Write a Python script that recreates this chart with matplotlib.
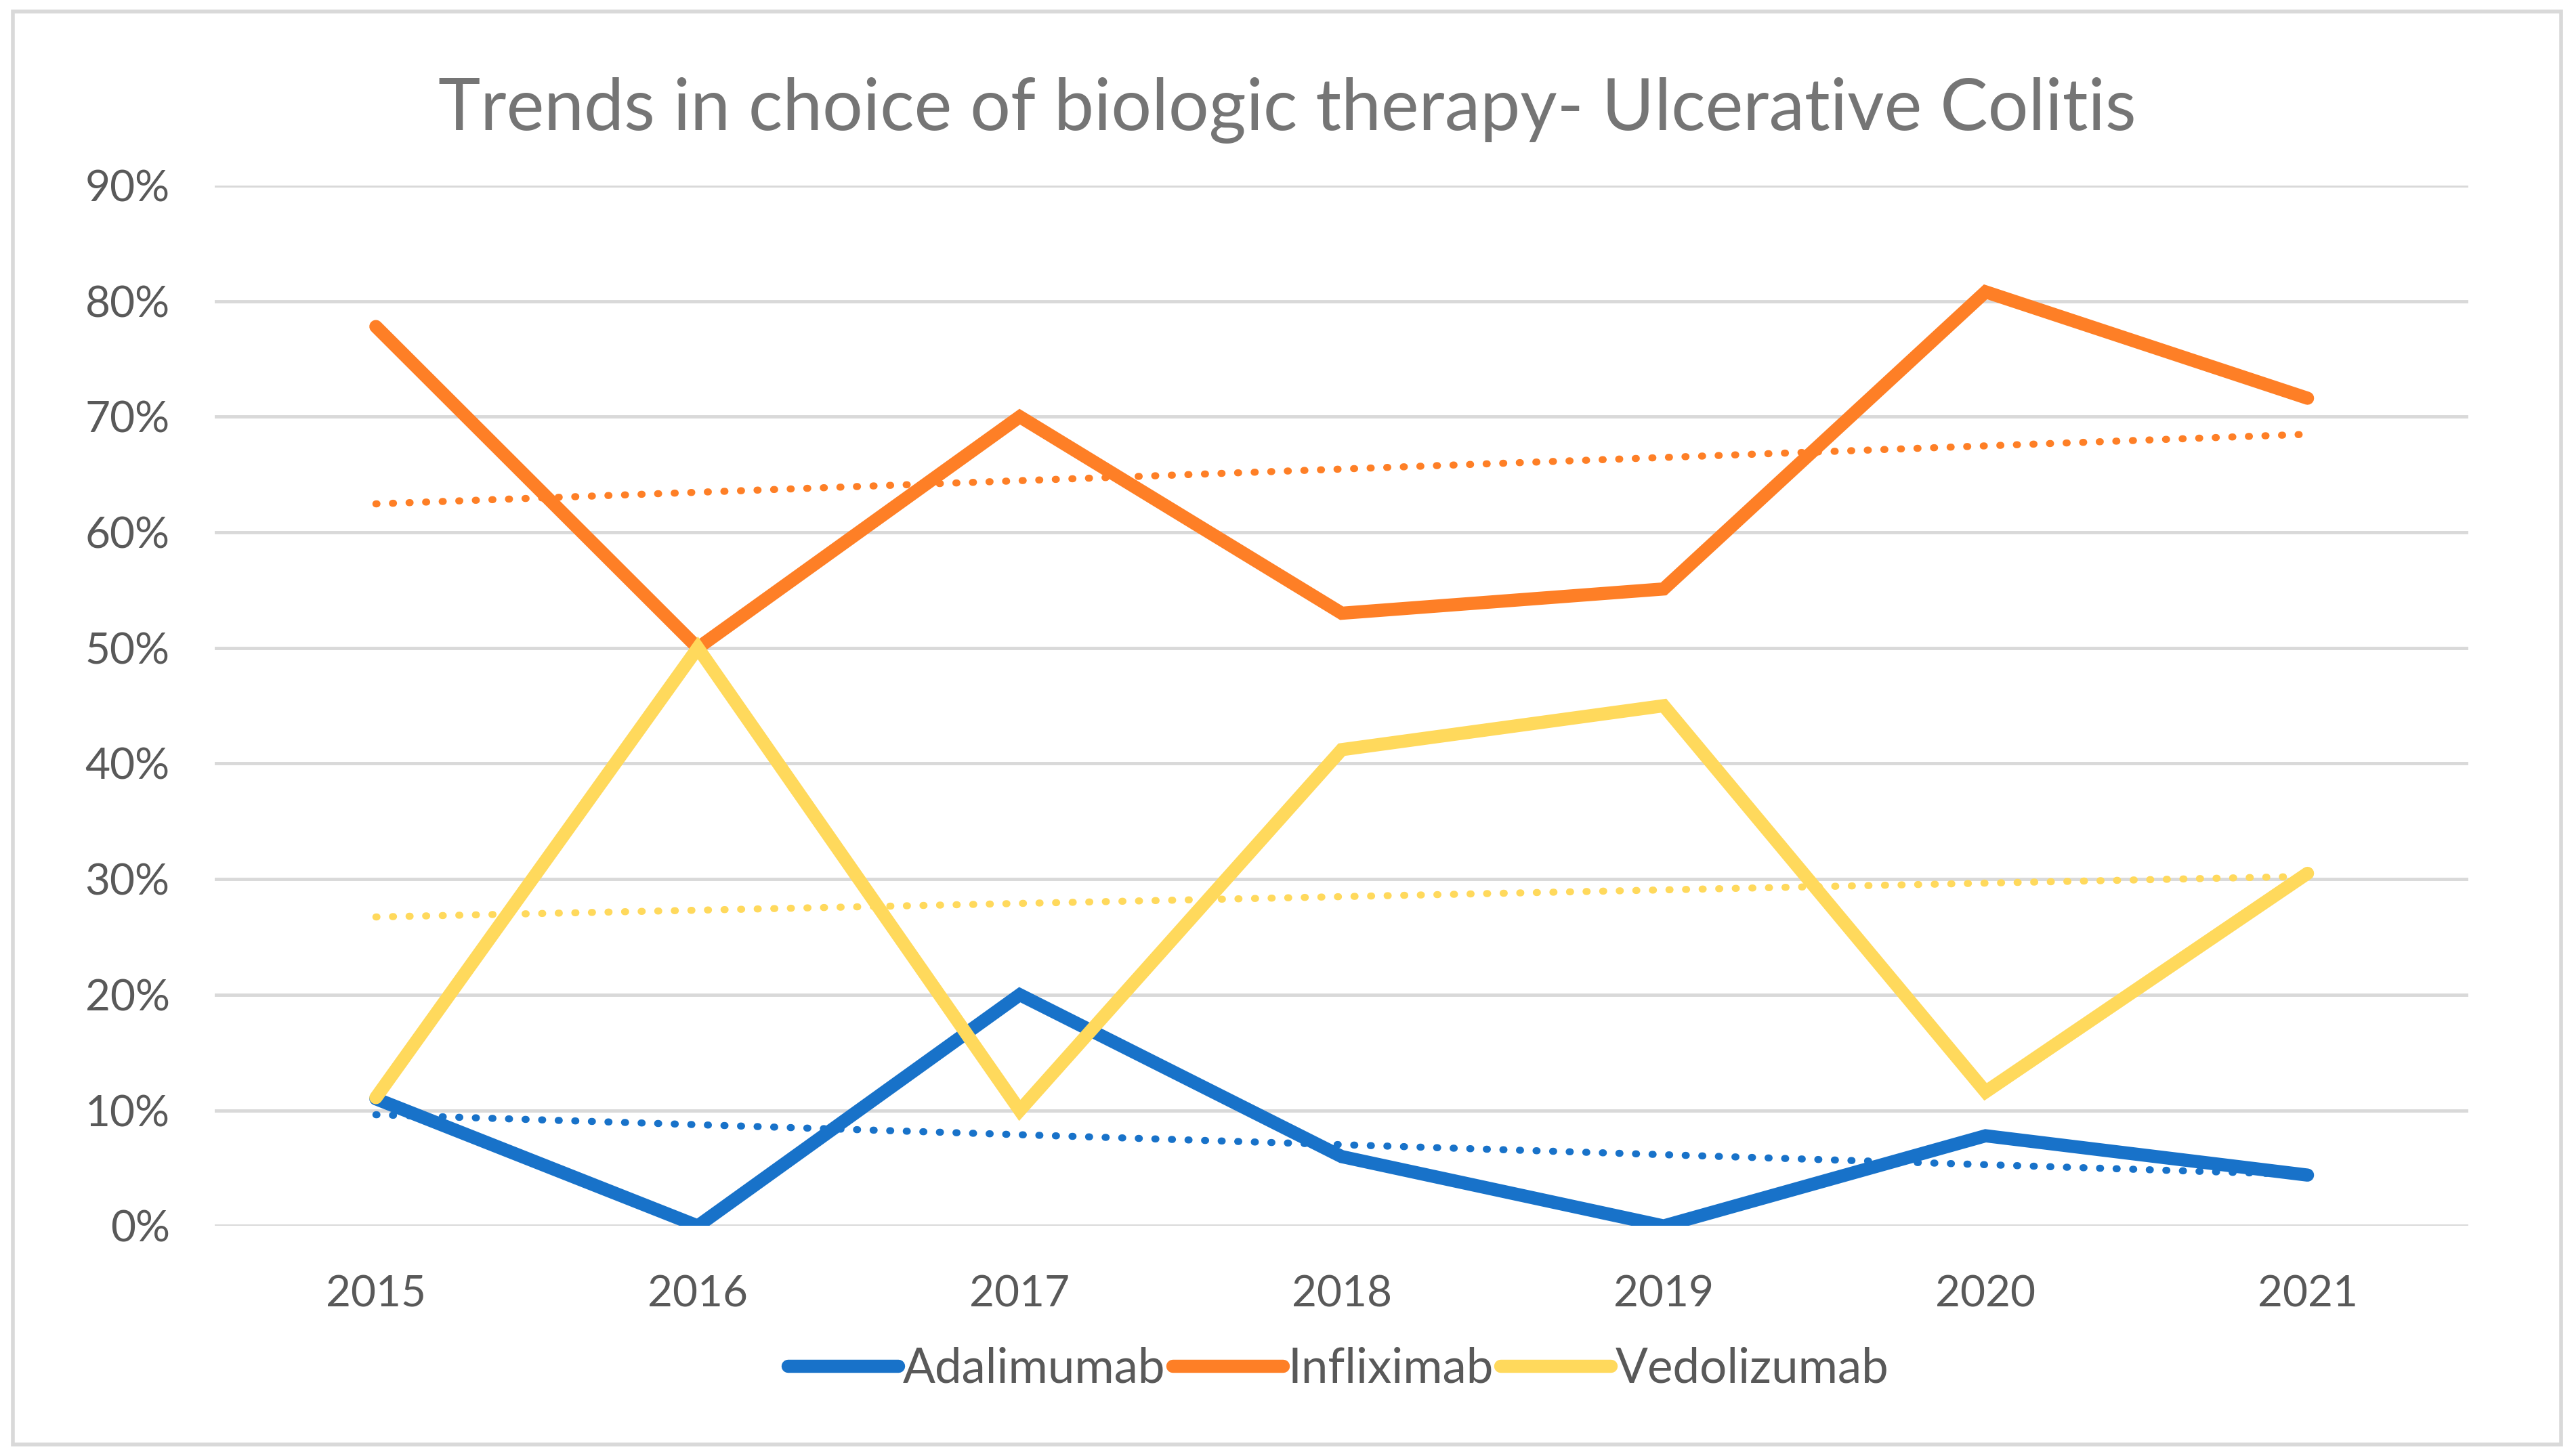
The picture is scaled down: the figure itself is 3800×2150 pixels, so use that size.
import matplotlib.pyplot as plt
from matplotlib.patches import Rectangle
from matplotlib.ticker import FuncFormatter
import numpy as np

# Données (%)
years = ['2015', '2016', '2017', '2018', '2019', '2020', '2021']
adalimumab = [11.0, 0.0, 20.0, 6.0, 0.0, 7.8, 4.4]
infliximab = [77.8, 50.0, 70.0, 53.0, 55.1, 80.8, 71.6]
vedolizumab = [11.1, 50.0, 10.0, 41.2, 45.0, 11.6, 30.5]

series_names = ['Adalimumab', 'Infliximab', 'Vedolizumab']
series_colors = ['#1872c9', '#fe7f26', '#ffd95c']


def create_plot():
    plt.rcParams['font.family'] = ['Lato', 'DejaVu Sans']
    fig = plt.figure(figsize=(38, 21.5), dpi=100)
    ax = fig.add_axes([0.0835, 0.158, 0.8755, 0.7146])

    x = np.arange(len(years))
    series = [adalimumab, infliximab, vedolizumab]

    for name, vals, col in zip(series_names, series, series_colors):
        ax.plot(x, vals, color=col, lw=14, solid_capstyle='round',
                solid_joinstyle='miter', label=name, zorder=3)
        # courbe de tendance linéaire (comme Excel)
        coef = np.polyfit(x, vals, 1)
        ax.plot(x, np.polyval(coef, x), color=col, lw=7.5, ls=(0, (0.15, 2.2)),
                dash_capstyle='round', zorder=2)

    ax.set_xlim(-0.5, len(years) - 0.5)
    ax.set_ylim(0, 90)
    ax.set_yticks(range(0, 91, 10))
    ax.yaxis.set_major_formatter(FuncFormatter(lambda v, p: f'{v:.0f}%'))
    ax.set_xticks(x)
    ax.set_xticklabels(years)
    ax.tick_params(length=0, labelsize=46, colors='#595959')
    ax.tick_params(axis='x', pad=52)
    ax.tick_params(axis='y', pad=48)
    ax.grid(axis='y', color='#d9d9d9', lw=3.5, zorder=0)
    for s in ax.spines.values():
        s.set_visible(False)

    fig.text(0.5, 0.924, 'Trends in choice of biologic therapy- Ulcerative Colitis',
             ha='center', va='center', fontsize=76, color='#757575')

    leg = fig.legend(loc='center', bbox_to_anchor=(0.52, 0.06), ncol=3, frameon=False,
                     fontsize=51, handlelength=2.3, handletextpad=0.1, columnspacing=0.15)
    for t in leg.get_texts():
        t.set_color('#595959')

    # bordure extérieure
    fig.patches.append(Rectangle((0.005, 0.008), 0.99, 0.984, transform=fig.transFigure,
                                 fill=False, ec='#d9d9d9', lw=4))

    fig.savefig('out.png', dpi=100)


if __name__ == "__main__":
    create_plot()
